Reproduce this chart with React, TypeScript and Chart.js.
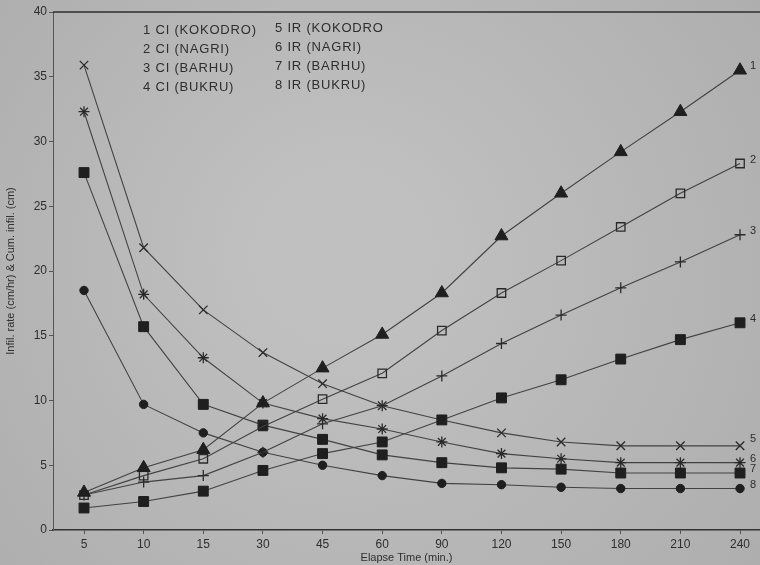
import { useEffect, useRef } from "react";
import { Chart, registerables } from "chart.js";

Chart.register(...registerables);

const categories = ["5", "10", "15", "30", "45", "60", "90", "120", "150", "180", "210", "240"];
const seriesLabels = [
  "1 CI (KOKODRO)",
  "2 CI (NAGRI)",
  "3 CI (BARHU)",
  "4 CI (BUKRU)",
  "5 IR (KOKODRO",
  "6 IR (NAGRI)",
  "7 IR (BARHU)",
  "8 IR (BUKRU)",
];
const endLabels = ["1", "2", "3", "4", "5", "6", "7", "8"];
const yTicks = [0, 5, 10, 15, 20, 25, 30, 35, 40];

const ciKokodro = [2.9, 4.8, 6.2, 9.8, 12.5, 15.1, 18.3, 22.7, 26.0, 29.2, 32.3, 35.5];
const ciNagri = [2.7, 4.2, 5.5, 8.0, 10.1, 12.1, 15.4, 18.3, 20.8, 23.4, 26.0, 28.3];
const ciBarhu = [2.7, 3.7, 4.2, 6.0, 8.2, 9.6, 11.9, 14.4, 16.6, 18.7, 20.7, 22.8];
const ciBukru = [1.7, 2.2, 3.0, 4.6, 5.9, 6.8, 8.5, 10.2, 11.6, 13.2, 14.7, 16.0];
const irKokodro = [35.9, 21.8, 17.0, 13.7, 11.3, 9.6, 8.5, 7.5, 6.8, 6.5, 6.5, 6.5];
const irNagri = [32.3, 18.2, 13.3, 9.8, 8.6, 7.8, 6.8, 5.9, 5.5, 5.2, 5.2, 5.2];
const irBarhu = [27.6, 15.7, 9.7, 8.1, 7.0, 5.8, 5.2, 4.8, 4.7, 4.4, 4.4, 4.4];
const irBukru = [18.5, 9.7, 7.5, 6.0, 5.0, 4.2, 3.6, 3.5, 3.3, 3.2, 3.2, 3.2];

const seriesValues = [ciKokodro, ciNagri, ciBarhu, ciBukru, irKokodro, irNagri, irBarhu, irBukru];

const pointStyles = ["triangle", "rect", "cross", "rect", "crossRot", "star", "rect", "circle"];
const pointRadii = [7.5, 6, 5.5, 7, 6, 5.5, 7, 4.2];
const pointFilled = [true, false, false, true, false, false, true, true];

const FONT = "'Liberation Sans', Arial, sans-serif";
const INK = "#1f1f1f";
const LINE = "#424242";
const TEXT = "#2e2e2e";

const decorPlugin = {
  id: "decor",
  beforeDraw(chart: any) {
    const { ctx, width, height } = chart;
    ctx.save();
    const g = ctx.createRadialGradient(width * 0.45, height * 0.45, 80, width * 0.5, height * 0.5, width * 0.72);
    g.addColorStop(0, "#c0c0c0");
    g.addColorStop(1, "#ababab");
    ctx.fillStyle = g;
    ctx.fillRect(0, 0, width, height);
    ctx.restore();
  },
  afterDatasetsDraw(chart: any) {
    const { ctx, chartArea } = chart;
    ctx.save();
    // top frame line
    ctx.strokeStyle = "#2e2e2e";
    ctx.lineWidth = 1.6;
    ctx.beginPath();
    ctx.moveTo(chartArea.left, chartArea.top);
    ctx.lineTo(chartArea.right, chartArea.top);
    ctx.stroke();

    // legend text
    ctx.fillStyle = TEXT;
    ctx.font = `13px ${FONT}`;
    try {
      ctx.letterSpacing = "0.8px";
    } catch (e) {}
    ctx.textBaseline = "middle";
    ctx.textAlign = "left";
    const colX = [143, 275];
    const rowY = [30, 49, 68, 87];
    seriesLabels.forEach((lab, i) => {
      const c = i < 4 ? 0 : 1;
      const r = i % 4;
      ctx.fillText(lab, colX[c], rowY[r] - (c === 1 ? 1.5 : 0));
    });

    // end labels
    ctx.font = `11px ${FONT}`;
    endLabels.forEach((lab, i) => {
      const meta = chart.getDatasetMeta(i);
      const pt = meta.data[meta.data.length - 1];
      if (!pt) return;
      const dy = i === 4 ? -7 : -4;
      ctx.fillText(lab, pt.x + 10, pt.y + dy);
    });
    ctx.restore();
  },
};

export default function App() {
  const ref = useRef<HTMLCanvasElement | null>(null);

  useEffect(() => {
    document.body.style.margin = "0";
    document.body.style.background = "#b5b5b5";
    const canvas = ref.current;
    if (!canvas) return;

    const datasets = seriesValues.map((vals, i) => ({
      label: seriesLabels[i],
      data: vals.map((v, k) => ({ x: k, y: v })),
      borderColor: LINE,
      borderWidth: 1.1,
      pointStyle: pointStyles[i] as any,
      pointRadius: pointRadii[i],
      pointBackgroundColor: pointFilled[i] ? INK : "rgba(0,0,0,0)",
      pointBorderColor: pointFilled[i] ? INK : "#2a2a2a",
      pointBorderWidth: pointFilled[i] ? 1 : 1.3,
      fill: false,
      tension: 0,
      clip: false as any,
    }));

    const chart = new Chart(canvas, {
      type: "line",
      data: { datasets },
      plugins: [decorPlugin],
      options: {
        responsive: false,
        animation: false,
        layout: { autoPadding: false, padding: { top: 12, right: 0, left: 0, bottom: 0 } },
        plugins: {
          legend: { display: false },
          tooltip: { enabled: false },
        },
        scales: {
          x: {
            type: "linear",
            min: -0.52,
            max: 11.335,
            afterBuildTicks: (s: any) => {
              s.ticks = categories.map((_, i) => ({ value: i }));
            },
            afterFit: (s: any) => {
              s.height = 35;
              s.paddingRight = 0;
              s.paddingLeft = 0;
            },
            ticks: {
              autoSkip: false,
              maxRotation: 0,
              padding: 3,
              color: TEXT,
              font: { family: FONT, size: 12 },
              callback: (_v: any, idx: number) => categories[idx],
            },
            grid: {
              drawOnChartArea: false,
              drawTicks: true,
              tickLength: 4,
              color: "#555",
            },
            border: { display: true, color: "#333", width: 1.5 },
            title: {
              display: true,
              text: "Elapse Time (min.)",
              color: TEXT,
              font: { family: FONT, size: 11 },
              padding: { top: 0, bottom: 0 },
            },
          },
          y: {
            min: 0,
            max: 40,
            afterBuildTicks: (s: any) => {
              s.ticks = yTicks.map((v) => ({ value: v }));
            },
            afterFit: (s: any) => {
              s.width = 53;
            },
            ticks: {
              padding: 2,
              color: TEXT,
              font: { family: FONT, size: 12 },
              callback: (v: any) => String(v),
            },
            grid: {
              drawOnChartArea: false,
              drawTicks: true,
              tickLength: 4,
              color: "#555",
            },
            border: { display: true, color: "#555", width: 1 },
            title: {
              display: true,
              text: "Infil. rate (cm/hr) & Cum. infil. (cm)",
              color: TEXT,
              font: { family: FONT, size: 11 },
              padding: { top: 4, bottom: 0 },
            },
          },
        },
      },
    });

    return () => chart.destroy();
  }, []);

  return (
    <div style={{ width: 760, height: 565 }}>
      <canvas ref={ref} width={760} height={565} style={{ display: "block", width: 760, height: 565 }} />
    </div>
  );
}
